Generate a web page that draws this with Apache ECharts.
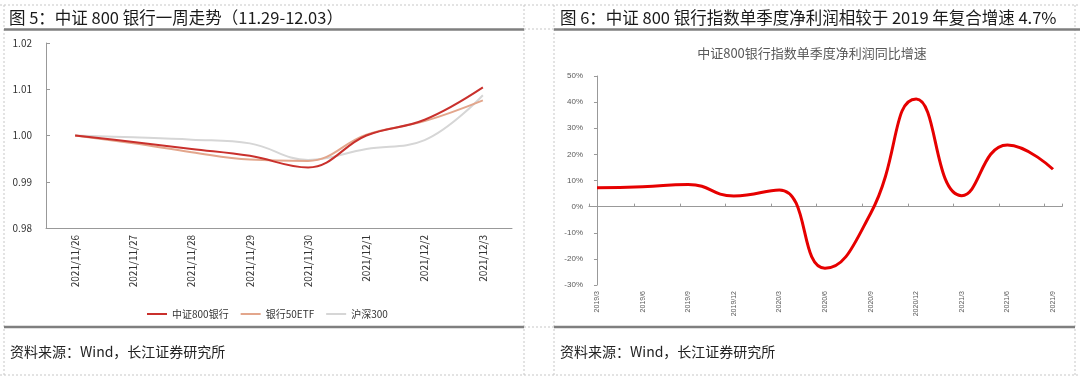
<!DOCTYPE html>
<html><head><meta charset="utf-8">
<script src="https://cdn.jsdelivr.net/npm/echarts@6/dist/echarts.min.js"></script>
<style>html,body{margin:0;padding:0;background:#fff}#c{width:1080px;height:379px}</style>
</head><body><div id="c"></div>
<script>
// ---- Left chart data ----
var leftDates = ['2021/11/26','2021/11/27','2021/11/28','2021/11/29','2021/11/30','2021/12/1','2021/12/2','2021/12/3'];
var bank800 = [1.0000, 0.9986, 0.9971, 0.9956, 0.9931, 1.0000, 1.0034, 1.0104];
var bank50etf = [1.0000, 0.9983, 0.9964, 0.9948, 0.9945, 1.0002, 1.0031, 1.0076];
var hs300 = [1.0000, 0.9996, 0.9991, 0.9983, 0.9947, 0.9971, 0.9990, 1.0087];
var leftYTicks = [0.98, 0.99, 1.00, 1.01, 1.02];
// ---- Right chart data ----
var quarters = ['2019/3','2019/6','2019/9','2019/12','2020/3','2020/6','2020/9','2020/12','2021/3','2021/6','2021/9'];
var profitGrowth = [7.2, 7.6, 8.5, 4.1, 6.4, -23.6, -2.6, 41.2, 4.2, 23.6, 14.3];
var rightYTicks = [-30, -20, -10, 0, 10, 20, 30, 40, 50];

var FONT = '"Noto Sans CJK SC","Noto Sans",sans-serif';
var chart = echarts.init(document.getElementById('c'), null, {renderer:'canvas'});

function dashed(x1,y1,x2,y2){return {type:'line',shape:{x1:x1,y1:y1,x2:x2,y2:y2},style:{stroke:'#c8c8c8',lineWidth:1,lineDash:[2,2]},silent:true};}
function thick(x1,y,x2){return {type:'line',shape:{x1:x1,y1:y,x2:x2,y2:y},style:{stroke:'#7f7f7f',lineWidth:2.5},silent:true};}

var option = {
  animation:false,
  textStyle:{fontFamily:FONT},
  title:[
    {text:'图 5：中证 800 银行一周走势（11.29-12.03）',left:4,top:4,textStyle:{fontSize:16.5,fontWeight:'normal',color:'#1a1a1a',fontFamily:FONT}},
    {text:'图 6：中证 800 银行指数单季度净利润相较于 2019 年复合增速 4.7%',left:555,top:4,textStyle:{fontSize:16.5,fontWeight:'normal',color:'#1a1a1a',fontFamily:FONT}},
    {text:'中证800银行指数单季度净利润同比增速',left:807,top:42,textAlign:'center',textStyle:{fontSize:13,fontWeight:'normal',color:'#595959',fontFamily:FONT}},
    {text:'资料来源：Wind，长江证券研究所',left:5,top:340,textStyle:{fontSize:14,fontWeight:'normal',color:'#222',fontFamily:FONT}},
    {text:'资料来源：Wind，长江证券研究所',left:555,top:340,textStyle:{fontSize:14,fontWeight:'normal',color:'#222',fontFamily:FONT}}
  ],
  legend:{
    data:['中证800银行','银行50ETF','沪深300'],
    left:142, top:304, icon:'rect', itemWidth:20, itemHeight:2, itemGap:12,
    textStyle:{fontSize:10,color:'#333',fontFamily:FONT}
  },
  grid:[
    {left:46,right:568,top:43,bottom:151},
    {left:589,right:18,top:76,bottom:94},
    {left:597,right:27,top:76,bottom:94}
  ],
  xAxis:[
    {type:'category',gridIndex:0,data:leftDates,boundaryGap:true,
     axisLine:{lineStyle:{color:'#999',width:1}},
     axisTick:{inside:true,length:4,lineStyle:{color:'#999'}},
     axisLabel:{rotate:90,margin:7,fontSize:10,color:'#333',fontFamily:FONT}},
    {type:'value',gridIndex:1,min:-0.175,max:10.2,interval:1,
     axisLine:{onZero:true,lineStyle:{color:'#999',width:1.2}},
     axisTick:{show:true,inside:true,length:3,lineStyle:{color:'#999'}},
     axisLabel:{show:false},splitLine:{show:false}},
    {type:'category',gridIndex:2,data:quarters,boundaryGap:false,position:'bottom',
     axisLine:{show:false,onZero:false},axisTick:{show:false},
     axisLabel:{rotate:90,margin:6,fontSize:7,color:'#595959',fontFamily:'"Liberation Sans",sans-serif'}}
  ],
  yAxis:[
    {type:'value',gridIndex:0,min:leftYTicks[0],max:leftYTicks[leftYTicks.length-1],interval:0.01,
     axisLine:{show:true,lineStyle:{color:'#999'}},
     axisTick:{show:true,inside:true,length:4,lineStyle:{color:'#999'}},
     splitLine:{show:false},
     axisLabel:{margin:14,fontSize:10,color:'#333',fontFamily:FONT,formatter:function(v){return v.toFixed(2);}}},
    {type:'value',gridIndex:1,min:rightYTicks[0],max:rightYTicks[rightYTicks.length-1],interval:10,
     axisLine:{show:true,lineStyle:{color:'#999'}},
     axisTick:{show:true,length:3,lineStyle:{color:'#999'}},
     splitLine:{show:false},
     axisLabel:{margin:6,fontSize:8,color:'#595959',fontFamily:'"Liberation Sans",sans-serif',formatter:'{value}%'}},
    {type:'value',gridIndex:2,min:rightYTicks[0],max:rightYTicks[rightYTicks.length-1],show:false}
  ],
  series:[
    {name:'中证800银行',type:'line',xAxisIndex:0,yAxisIndex:0,data:bank800,smooth:0.4,symbol:'none',
     lineStyle:{color:'#c9302c',width:2},itemStyle:{color:'#c9302c'},z:4},
    {name:'银行50ETF',type:'line',xAxisIndex:0,yAxisIndex:0,data:bank50etf,smooth:0.4,symbol:'none',
     lineStyle:{color:'#e3a68c',width:2},itemStyle:{color:'#e3a68c'},z:3},
    {name:'沪深300',type:'line',xAxisIndex:0,yAxisIndex:0,data:hs300,smooth:0.4,symbol:'none',
     lineStyle:{color:'#d6d6d6',width:2},itemStyle:{color:'#d6d6d6'},z:2},
    {name:'同比增速',type:'line',xAxisIndex:2,yAxisIndex:2,data:profitGrowth,smooth:0.5,symbol:'none',
     lineStyle:{color:'#e60000',width:3}}
  ],
  graphic:[
    dashed(0,5,1080,5),
    dashed(4,5,4,375),
    dashed(524,5,524,375),
    dashed(554,5,554,375),
    dashed(1075,5,1075,375),
    dashed(0,375,1080,375),
    dashed(524,29,554,29),
    dashed(524,327,554,327),
    thick(4,29.5,524),
    thick(554,29.5,1080),
    thick(4,327,524),
    thick(554,327,1075)
  ]
};
chart.setOption(option);
</script></body></html>
